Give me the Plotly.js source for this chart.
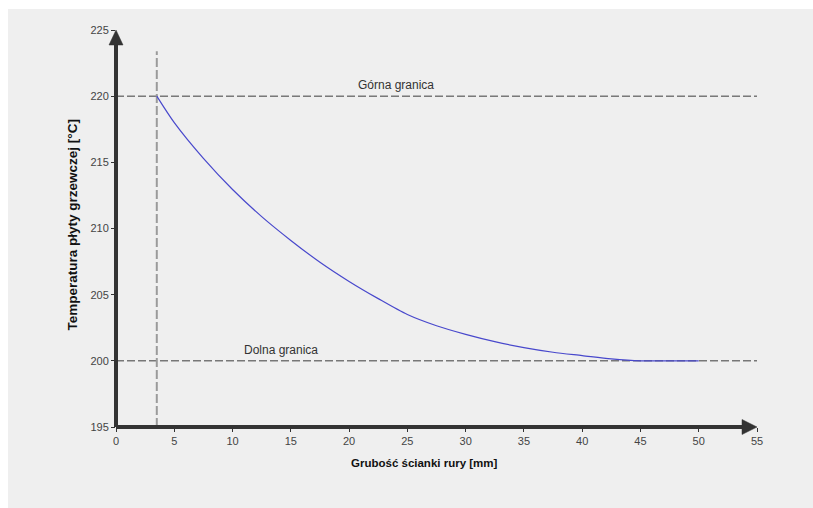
<!DOCTYPE html>
<html>
<head>
<meta charset="utf-8">
<script src="https://cdn.plot.ly/plotly-3.0.1.min.js"></script>
<style>
html, body { margin:0; padding:0; background:#ffffff; width:813px; height:508px; overflow:hidden; }
#chart { position:absolute; left:8px; top:9px; width:805px; height:499px; }
</style>
</head>
<body>
<div id="chart"></div>
<script>
// Data
const thickness = [3.5, 5, 7.5, 10, 12.5, 15, 17.5, 20, 22.5, 25, 27.5, 30, 32.5, 35, 37.5, 40, 42.5, 45, 47.5, 50];
const temperature = [220, 218.0, 215.3, 212.95, 210.9, 209.1, 207.45, 206.0, 204.7, 203.5, 202.65, 202.0, 201.45, 201.0, 200.65, 200.4, 200.15, 200, 200, 200];
const upperLimit = 220;
const lowerLimit = 200;
const minThickness = 3.5;
const xRange = [0, 55];
const yRange = [195, 225];
const xTicks = [0, 5, 10, 15, 20, 25, 30, 35, 40, 45, 50, 55];
const yTicks = [195, 200, 205, 210, 215, 220, 225];
const labels = {
  upper: 'Górna granica',
  lower: 'Dolna granica',
  xTitle: 'Grubość ścianki rury [mm]',
  yTitle: 'Temperatura płyty grzewczej [°C]'
};

const W = 805, H = 499;
const M = {l:108, r:56, t:21, b:81};
const pw = W - M.l - M.r, ph = H - M.t - M.b;
const FONT = 'Liberation Sans, Arial, sans-serif';

const traces = [
  { x: xRange, y: [upperLimit, upperLimit], mode:'lines', line:{color:'#3c3c3c', width:1, dash:'8px,3px'}, hoverinfo:'skip' },
  { x: xRange, y: [lowerLimit, lowerLimit], mode:'lines', line:{color:'#3c3c3c', width:1, dash:'8px,3px'}, hoverinfo:'skip' },
  { x: [minThickness, minThickness], y: [yRange[0], 223.4], mode:'lines', line:{color:'#9a9a9a', width:2, dash:'9px,3px'}, hoverinfo:'skip' },
  { x: thickness, y: temperature, mode:'lines', line:{color:'#4848cc', width:1.2, shape:'spline', smoothing:0.8} }
];

const axisColor = '#333333';
const shapes = [
  { type:'line', xref:'paper', yref:'paper', x0:0, x1:0, y0:0, y1:1 - 14/ph, line:{color:axisColor, width:4} },
  { type:'path', xref:'paper', yref:'paper', path:`M 0 1 L ${-7/pw} ${1-15/ph} L ${7/pw} ${1-15/ph} Z`, fillcolor:axisColor, line:{color:axisColor, width:0.5} },
  { type:'line', xref:'paper', yref:'paper', x0:0, x1:1 - 14/pw, y0:0, y1:0, line:{color:axisColor, width:4} },
  { type:'path', xref:'paper', yref:'paper', path:`M 1 0 L ${1-15/pw} ${7.5/ph} L ${1-15/pw} ${-7.5/ph} Z`, fillcolor:axisColor, line:{color:axisColor, width:0.5} }
];

const annotations = [
  { x:24.0, y:upperLimit, xref:'x', yref:'y', text:labels.upper, showarrow:false, yanchor:'bottom', yshift:2, font:{family:FONT, size:12, color:'#333'} },
  { x:14.2, y:lowerLimit, xref:'x', yref:'y', text:labels.lower, showarrow:false, yanchor:'bottom', yshift:2, font:{family:FONT, size:12, color:'#333'} },
  { x:26.5, y:0, xref:'x', yref:'paper', text:'<b>'+labels.xTitle+'</b>', showarrow:false, yanchor:'middle', yshift:-36, font:{family:FONT, size:11.5, color:'#111'} },
  { x:0, y:0.5, xref:'paper', yref:'paper', text:'<b>'+labels.yTitle+'</b>', showarrow:false, textangle:-90, xanchor:'center', yanchor:'middle', xshift:-44, yshift:3, font:{family:FONT, size:13.5, color:'#111'} }
];

const layout = {
  width: W, height: H,
  margin: M,
  paper_bgcolor:'#efefef',
  plot_bgcolor:'#efefef',
  showlegend:false,
  xaxis:{ range:xRange, tickvals:xTicks, ticktext:xTicks.map(String), showgrid:false, zeroline:false, showline:false,
          ticks:'outside', ticklen:4, tickwidth:1, tickcolor:axisColor,
          tickfont:{family:FONT, size:11, color:'#444'}, fixedrange:true },
  yaxis:{ range:yRange, tickvals:yTicks, ticktext:yTicks.map(String), showgrid:false, zeroline:false, showline:false,
          ticks:'outside', ticklen:4, tickwidth:1, tickcolor:axisColor,
          tickfont:{family:FONT, size:11, color:'#444'}, fixedrange:true },
  shapes: shapes,
  annotations: annotations
};

Plotly.newPlot('chart', traces, layout, {displayModeBar:false, staticPlot:true});
</script>
</body>
</html>
